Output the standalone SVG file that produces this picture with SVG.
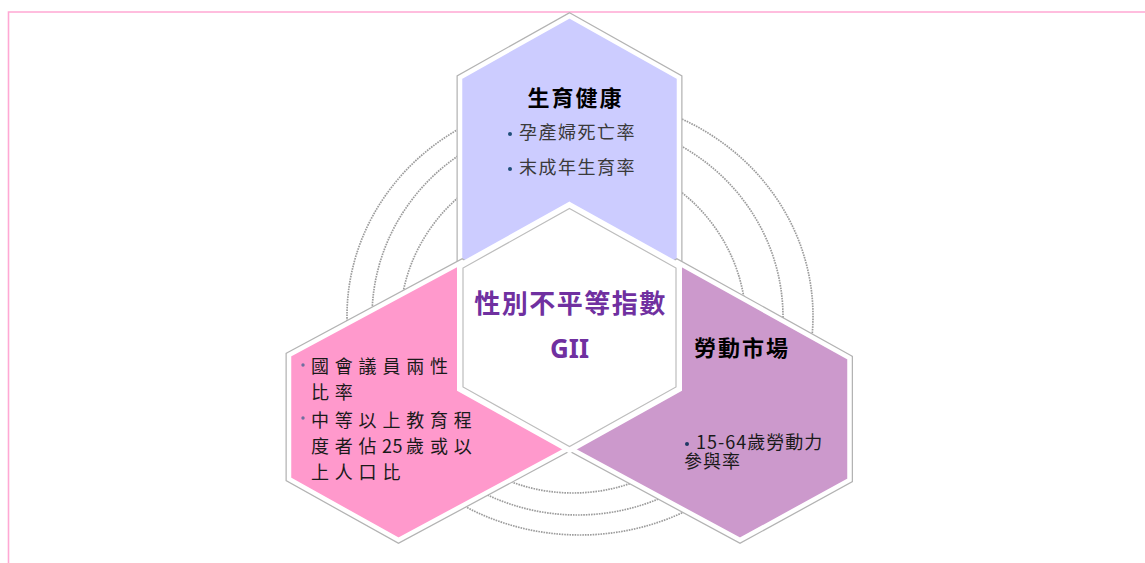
<svg xmlns="http://www.w3.org/2000/svg" width="1145" height="563" viewBox="0 0 1145 563">
<style>
.ring{fill:none;stroke:#9c9c9c;stroke-width:1.7;stroke-dasharray:1.6 1}
.edge{fill:none;stroke:#b3b3b3;stroke-width:7;stroke-linejoin:miter}
.body{stroke:#ffffff;stroke-width:4.5;stroke-linejoin:miter}
.cjk{font-family:"Noto Sans CJK TC","Noto Sans CJK SC",sans-serif}
.head{font-size:22px;font-weight:bold;fill:#000000;letter-spacing:2px}
.item{font-size:18px;fill:#3a3a3a;letter-spacing:1.5px}
.litem{font-size:18px;fill:#1a1a1a;letter-spacing:5.8px}
.ritem{font-size:18px;fill:#1a1a1a;letter-spacing:1px}
.gii{font-weight:bold;fill:#7030a0}
</style>
<rect x="0" y="0" width="1145" height="563" fill="#ffffff"/>
<g id="frame">
<path d="M8.5,563 V12 H1145" fill="none" stroke="#ffa8d4" stroke-width="1.6"/>
</g>
<g id="rings">
<ellipse class="ring" cx="580" cy="316" rx="233" ry="219"/>
<ellipse class="ring" cx="577.5" cy="317" rx="205.5" ry="198"/>
<ellipse class="ring" cx="573" cy="324" rx="173" ry="169"/>
</g>
<g id="node-health">
<polygon class="edge" points="569.5,16 679,77.5 679,268 569.5,330 460,268 460,77.5"/>
<polygon class="body" fill="#ccccff" points="569.5,16 679,77.5 679,268 569.5,330 460,268 460,77.5"/>
<text class="cjk head" x="575.5" y="105.5" text-anchor="middle">生育健康</text>
<circle cx="510" cy="134" r="2" fill="#1f4e79"/>
<text class="cjk item" x="519" y="139">孕產婦死亡率</text>
<circle cx="510" cy="169" r="2" fill="#1f4e79"/>
<text class="cjk item" x="519" y="174">末成年生育率</text>
</g>
<g id="node-empowerment">
<polygon class="edge" points="289,355 462,262 569.5,330 569.5,448 398.5,540 289,479"/>
<polygon class="body" fill="#ff99cc" points="289,355 462,262 569.5,330 569.5,448 398.5,540 289,479"/>
<circle cx="303" cy="365" r="1.7" fill="#6f6f9f"/>
<text class="cjk litem"><tspan x="311" y="373">國會議員兩性</tspan><tspan x="311" y="399">比率</tspan></text>
<circle cx="303" cy="418" r="1.7" fill="#6f6f9f"/>
<text class="cjk litem"><tspan x="311" y="427">中等以上教育程</tspan><tspan x="311" y="453" letter-spacing="0" dx="0 5.8 5.8 0 1.4 0.5 0 -0.5 5.8 5.8">度者佔 25 歲或以</tspan><tspan x="311" y="479">上人口比</tspan></text>
</g>
<g id="node-labour">
<polygon class="edge" points="849.5,358 677,262 569.5,330 569.5,448 740,540 849.5,480"/>
<polygon class="body" fill="#cc99cc" points="849.5,358 677,262 569.5,330 569.5,448 740,540 849.5,480"/>
<text class="cjk head" x="694" y="355.5">勞動市場</text>
<circle cx="687" cy="444" r="2" fill="#1f3864"/>
<text class="cjk ritem"><tspan x="696" y="449">15-64歲勞動力</tspan><tspan x="684" y="468">參與率</tspan></text>
</g>
<g id="node-gii">
<polygon fill="#ffffff" stroke="#ffffff" stroke-width="6" stroke-linejoin="miter" points="569.5,205 679,266 679,389 569.5,450 460,389 460,266"/>
<polygon fill="none" stroke="#bdbdbd" stroke-width="1.2" points="569.5,208.5 676,268 676,387 569.5,446.5 463,387 463,268"/>
<text class="cjk gii" x="570.5" y="313" font-size="26" letter-spacing="1.5" text-anchor="middle">性別不平等指數</text>
<text class="gii" x="569.5" y="358" font-size="26" text-anchor="middle" font-family="'Noto Sans','Liberation Sans',sans-serif">GII</text>
</g>
</svg>
